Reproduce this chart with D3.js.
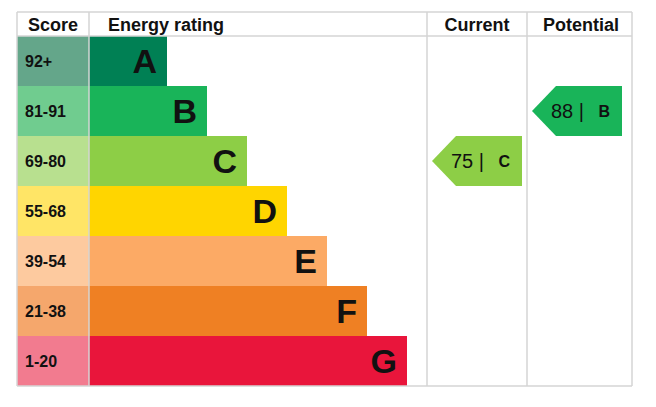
<!DOCTYPE html><html><head><meta charset="utf-8"><script src="https://cdn.jsdelivr.net/npm/d3@7"></script>
<style>body{margin:0;background:#fff}text{font-family:"Liberation Sans",Arial,sans-serif}</style></head><body><svg id="c" width="656" height="407"></svg><script>
const bands=["A","B","C","D","E","F","G"];
const ranges=["92+","81-91","69-80","55-68","39-54","21-38","1-20"];
const barEnds=[94,100,110,120,130,140,150];
const colors=["#008054","#19b459","#8dce46","#ffd500","#fcaa65","#ef8023","#e9153b"];
const light=["#64a68a","#70cc8f","#b8e08f","#ffe566","#fdca9f","#f5a76c","#f27b8f"];
const current={score:75,band:"C"}, potential={score:88,band:"B"};
const svg=d3.select("#c");
const y=d3.scaleBand().domain(bands).range([36,386]);
// bar length scale: value units mapped to px
const x=d3.scaleLinear().domain([0,100]).range([89,167+ (167-89)*0]);
const xw=d3.scaleLinear().domain([0,100]).range([89,489]);
bands.forEach((b,i)=>{
  const end=89+78+40*i;
  svg.append("rect").attr("x",17).attr("y",y(b)).attr("width",72).attr("height",y.bandwidth()).attr("fill",light[i]);
  svg.append("rect").attr("x",89).attr("y",y(b)).attr("width",end-89).attr("height",y.bandwidth()).attr("fill",colors[i]);
  svg.append("text").attr("x",25).attr("y",y(b)+y.bandwidth()/2+6).attr("font-size",16).attr("font-weight","bold").attr("fill","#111").text(ranges[i]);
  svg.append("text").attr("x",end-10).attr("y",y(b)+y.bandwidth()/2+12).attr("text-anchor","end").attr("font-size",34).attr("font-weight","bold").attr("fill","#111").text(b);
});
const g="#d4d4d4";
[[17,12,632,12],[17,36,632,36],[17,386,632,386]].forEach(l=>svg.append("line").attr("x1",l[0]).attr("y1",l[1]).attr("x2",l[2]).attr("y2",l[3]).attr("stroke",g).attr("stroke-width",1.5));
[17,89,427,527,632].forEach(v=>svg.append("line").attr("x1",v).attr("x2",v).attr("y1",12).attr("y2",386).attr("stroke",g).attr("stroke-width",1.5));
[["Score",53],["Energy rating",166],["Current",477],["Potential",581]].forEach(h=>svg.append("text").attr("x",h[1]).attr("y",31).attr("text-anchor","middle").attr("font-size",18).attr("font-weight","bold").attr("fill","#111").text(h[0]));
function arrow(d,x0,x1){
  const i=bands.indexOf(d.band),t=y(d.band),h=y.bandwidth();
  svg.append("path").attr("d",`M${x0},${t+h/2}L${x0+24},${t}L${x1},${t}L${x1},${t+h}L${x0+24},${t+h}Z`).attr("fill",colors[i]);
  svg.append("text").attr("x",x0+19).attr("y",t+h/2+7).attr("font-size",20).attr("fill","#111").text(d.score+" |");
  svg.append("text").attr("x",x1-12).attr("y",t+h/2+6).attr("text-anchor","end").attr("font-size",16).attr("font-weight","bold").attr("fill","#111").text(d.band);
}
arrow(current,432,522);arrow(potential,532,622);
</script></body></html>
